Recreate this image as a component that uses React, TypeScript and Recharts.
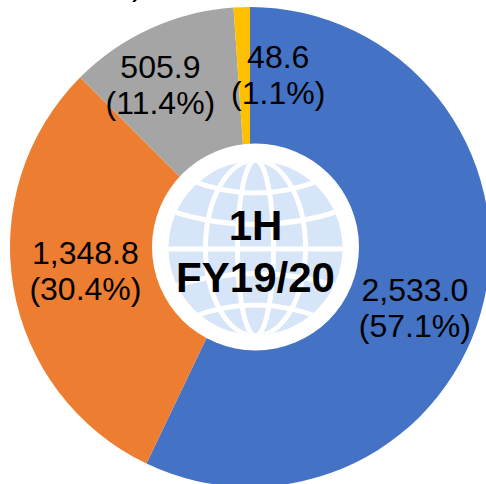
import { PieChart, Pie, Cell } from 'recharts'

const segments = ['Blue', 'Orange', 'Grey', 'Yellow']
const values = [2533.0, 1348.8, 505.9, 48.6]
const valueLabels = ['2,533.0', '1,348.8', '505.9', '48.6']
const shareLabels = ['(57.1%)', '(30.4%)', '(11.4%)', '(1.1%)']
const centerLines = ['1H', 'FY19/20']

const colors = ['#4472C4', '#ED7D31', '#A5A5A5', '#FFC000']
const labelNudge = [
  { dx: 1, dy: 24 },
  { dx: 1, dy: -4 },
  { dx: -20, dy: -9 },
  { dx: 34, dy: -4 },
]
const LABEL_RADIUS = 168

const data = segments.map((name, i) => ({ name, value: values[i] }))

const RAD = Math.PI / 180

// eslint-disable-next-line @typescript-eslint/no-explicit-any
function renderLabel(p: any) {
  const i = p.index
  const x = p.cx + LABEL_RADIUS * Math.cos(-p.midAngle * RAD) + labelNudge[i].dx
  const y = p.cy + LABEL_RADIUS * Math.sin(-p.midAngle * RAD) + labelNudge[i].dy
  return (
    <text key={i} x={x} y={y} textAnchor="middle" fontFamily="Liberation Sans" fontSize={32} fill="#000">
      <tspan x={x} dy={-7}>{valueLabels[i]}</tspan>
      <tspan x={x} dy={36}>{shareLabels[i]}</tspan>
    </text>
  )
}

function Globe() {
  const band = { fill: 'none', stroke: '#fff', strokeWidth: 5 }
  return (
    <svg width={486} height={484} style={{ position: 'absolute', left: 0, top: 0 }}>
      <defs>
        <clipPath id="globe-clip">
          <circle cx={255.5} cy={248} r={87} />
        </clipPath>
      </defs>
      <circle cx={255.5} cy={247} r={103.5} fill="#fff" />
      <circle cx={255.5} cy={248} r={87} fill="#D6E5F7" />
      <g clipPath="url(#globe-clip)">
        <ellipse cx={255.5} cy={248} rx={18} ry={88} {...band} />
        <ellipse cx={255.5} cy={248} rx={50} ry={88} {...band} />
        <path d="M160 249H350" {...band} />
        <path d="M190 180Q255 206 321 180" {...band} />
        <path d="M165 209Q255 240 346 209" {...band} />
        <path d="M165 289Q255 258 346 289" {...band} />
        <path d="M190 318Q255 292 321 318" {...band} />
      </g>
      <text textAnchor="middle" fontFamily="Liberation Sans" fontWeight="bold" fontSize={42} fill="#000">
        <tspan x={255.5} y={240}>{centerLines[0]}</tspan>
        <tspan x={255.5} y={292}>{centerLines[1]}</tspan>
      </text>
      <text x={132} y={-5} fontFamily="Liberation Sans" fontSize={32} fill="#000">)</text>
    </svg>
  )
}

export default function App() {
  return (
    <div style={{ position: 'absolute', left: 0, top: 0, width: 486, height: 484, overflow: 'hidden', background: '#fff' }}>
      <div style={{ position: 'absolute', left: 0, top: 0 }}>
        <PieChart width={486} height={484} margin={{ top: 0, right: 0, bottom: 0, left: 0 }}>
          <Pie
            data={data}
            dataKey="value"
            cx={250}
            cy={247}
            innerRadius={95}
            outerRadius={240}
            startAngle={90}
            endAngle={-270}
            stroke="none"
            label={renderLabel}
            labelLine={false}
            isAnimationActive={false}
          >
            {data.map((d, i) => (
              <Cell key={d.name} fill={colors[i]} />
            ))}
          </Pie>
        </PieChart>
      </div>
      <Globe />
    </div>
  )
}
